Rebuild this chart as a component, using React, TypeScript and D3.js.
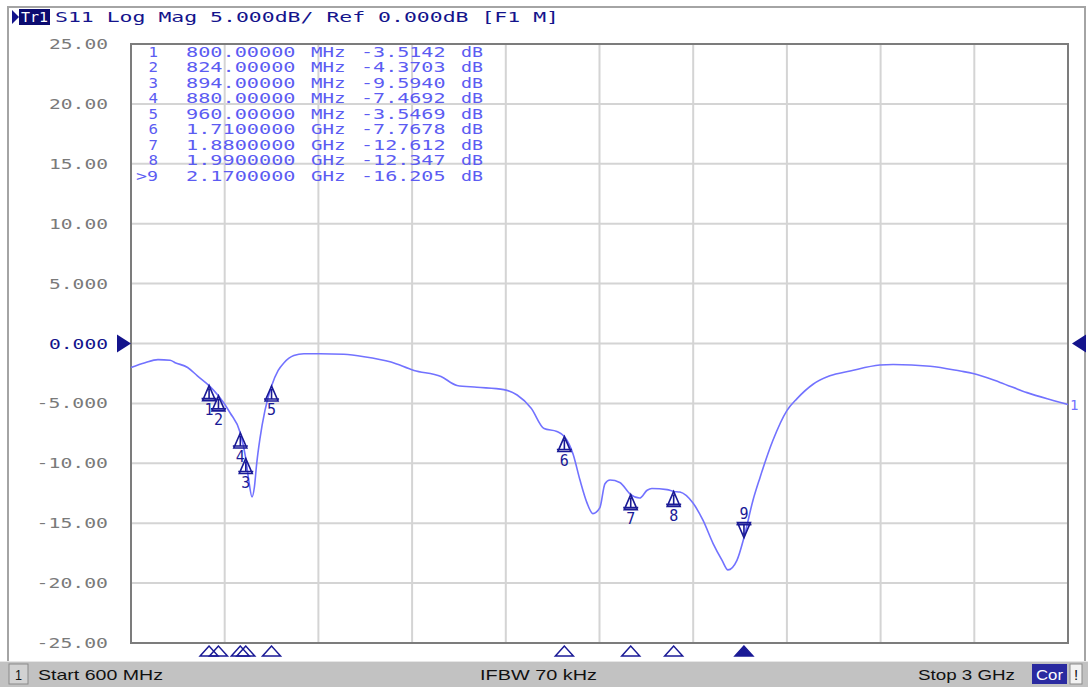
import React, { useEffect, useRef } from "react";
import * as d3 from "d3";

// trace S11 (MHz, dB)
const freqMHz = [
  600, 636, 669, 700, 713, 745, 770, 800, 824, 854, 880, 894, 902, 910, 916, 922, 930, 943, 960, 977,
  992, 1017, 1043, 1084, 1145, 1197, 1266, 1325, 1394, 1435, 1486, 1555, 1589, 1625, 1658, 1691, 1710,
  1732, 1750, 1768, 1783, 1801, 1814, 1827, 1852, 1880, 1903, 1922, 1934, 1973, 1990, 2006, 2039, 2065,
  2091, 2114, 2129, 2152, 2170, 2193, 2211, 2244, 2280, 2306, 2347, 2390, 2442, 2518, 2552, 2647, 2724,
  2757, 2826, 2895, 2962, 3000,
];
const s11Db = [
  -2.0, -1.6, -1.35, -1.4, -1.6, -2.0, -2.7, -3.5142, -4.3703, -5.8, -7.4692, -9.594, -11.5, -12.8, -12.0,
  -10.0, -8.0, -5.6, -3.5469, -2.25, -1.6, -1.0, -0.85, -0.85, -0.9, -1.1, -1.55, -2.25, -2.75, -3.5, -3.65,
  -3.85, -4.3, -5.4, -7.1, -7.35, -7.7678, -9.2, -11.4, -13.3, -14.2, -13.7, -11.7, -11.4, -11.6, -12.612,
  -12.9, -12.25, -12.1, -12.2, -12.347, -12.4, -13.3, -14.75, -16.7, -18.1, -18.9, -18.1, -16.205, -13.1,
  -11.2, -8.1, -5.6, -4.6, -3.4, -2.7, -2.3, -1.8, -1.75, -1.9, -2.3, -2.5, -3.25, -4.1, -4.75, -5.1,
];

const markerId = ["1", "2", "3", "4", "5", "6", "7", "8", "9"];
const markerMHz = [800, 824, 894, 880, 960, 1710, 1880, 1990, 2170];
const markerDb = [-3.5142, -4.3703, -9.594, -7.4692, -3.5469, -7.7678, -12.612, -12.347, -16.205];
const markerFreqText = ["800.00000", "824.00000", "894.00000", "880.00000", "960.00000", "1.7100000", "1.8800000", "1.9900000", "2.1700000"];
const markerUnit = ["MHz", "MHz", "MHz", "MHz", "MHz", "GHz", "GHz", "GHz", "GHz"];
const markerValText = ["-3.5142", "-4.3703", "-9.5940", "-7.4692", "-3.5469", "-7.7678", "-12.612", "-12.347", "-16.205"];
const activeMarker = 8;

const yTicks = [25, 20, 15, 10, 5, 0, -5, -10, -15, -20, -25];
const yTickText = ["25.00", "20.00", "15.00", "10.00", "5.000", "0.000", "-5.000", "-10.00", "-15.00", "-20.00", "-25.00"];
const xTicks = [600, 840, 1080, 1320, 1560, 1800, 2040, 2280, 2520, 2760, 3000];

const W = 1088;
const H = 687;
const MONO = "'DejaVu Sans Mono', monospace";
const NARROW = "'Liberation Sans Narrow', 'Arial Narrow', 'Liberation Sans', sans-serif";
const NAVY = "#14148c";
const TRACE = "#7272ff";

const App = () => {
  const chartRef = useRef<SVGSVGElement | null>(null);

  useEffect(() => {
    if (!chartRef.current) return;
    const svg = d3.select(chartRef.current);
    svg.selectAll("*").remove();

    const plot = { left: 131, right: 1068, top: 44, bottom: 643 };
    const x = d3.scaleLinear().domain([600, 3000]).range([plot.left, plot.right]);
    const y = d3.scaleLinear().domain([-25, 25]).range([plot.bottom, plot.top]);

    svg.append("rect").attr("width", W).attr("height", H).attr("fill", "#fff");

    // outer frame
    svg.append("path")
      .attr("d", "M8,662 V7 H1085 V662")
      .attr("fill", "none")
      .attr("stroke", "#a4a4a4")
      .attr("stroke-width", 2);

    // title line
    svg.append("path").attr("d", "M12,10 L19,17 L12,24 Z").attr("fill", NAVY);
    svg.append("rect").attr("x", 19).attr("y", 9).attr("width", 31).attr("height", 16).attr("fill", "#0c0c70");
    svg.append("text")
      .attr("x", 21).attr("y", 17).attr("dy", "0.35em")
      .attr("font-family", MONO).attr("font-size", 14).attr("fill", "#fff")
      .attr("textLength", 27).attr("lengthAdjust", "spacingAndGlyphs")
      .text("Tr1");
    svg.append("text")
      .attr("x", 55).attr("y", 17).attr("dy", "0.35em")
      .attr("font-family", MONO).attr("font-size", 14.5).attr("fill", NAVY)
      .attr("textLength", 39 * 13 - 3).attr("lengthAdjust", "spacingAndGlyphs")
      .text("S11 Log Mag 5.000dB/ Ref 0.000dB [F1 M]");

    // grid
    const grid = svg.append("g");
    grid.selectAll(".gx")
      .data(xTicks.slice(1, -1))
      .enter().append("line")
      .attr("x1", (d) => x(d)).attr("x2", (d) => x(d))
      .attr("y1", plot.top).attr("y2", plot.bottom)
      .attr("stroke", "#d4d4d4").attr("stroke-width", 2);
    grid.selectAll(".gy")
      .data(yTicks.slice(1, -1))
      .enter().append("line")
      .attr("x1", plot.left).attr("x2", plot.right)
      .attr("y1", (d) => y(d)).attr("y2", (d) => y(d))
      .attr("stroke", "#d4d4d4").attr("stroke-width", 2);
    svg.append("rect")
      .attr("x", plot.left).attr("y", plot.top)
      .attr("width", plot.right - plot.left).attr("height", plot.bottom - plot.top)
      .attr("fill", "none").attr("stroke", "#7c7c7c").attr("stroke-width", 2);

    // y labels
    svg.selectAll(".ylab")
      .data(yTicks)
      .enter().append("text")
      .attr("x", 108).attr("y", (d) => y(d)).attr("dy", "0.35em")
      .attr("text-anchor", "end")
      .attr("font-family", MONO).attr("font-size", 14.5)
      .attr("fill", (d) => (d === 0 ? NAVY : "#7a7a7a"))
      .attr("textLength", (d, i) => yTickText[i].length * 12.4 - 3)
      .attr("lengthAdjust", "spacingAndGlyphs")
      .text((d, i) => yTickText[i]);

    // reference level arrows
    svg.append("path").attr("d", `M117,${y(0) - 9} L131,${y(0)} L117,${y(0) + 9} Z`).attr("fill", NAVY);
    svg.append("path").attr("d", `M1086,${y(0) - 9} L1072,${y(0)} L1086,${y(0) + 9} Z`).attr("fill", NAVY);

    // marker table
    const cw = 12.5;
    const tx = 136;
    const table = svg.append("g")
      .attr("font-family", MONO).attr("font-size", 14).attr("fill", "#5c5cf2");
    markerId.forEach((id, i) => {
      const ty = 52 + i * 15.5;
      const cells: [string, number][] = [
        [i === activeMarker ? ">" + id : " " + id, 0],
        [markerFreqText[i], 4],
        [markerUnit[i], 14],
        [markerValText[i].padStart(7, " "), 18],
        ["dB", 26],
      ];
      cells.forEach(([s, col]) => {
        const lead = s.length - s.trimStart().length;
        const t = s.trimStart();
        table.append("text")
          .attr("x", tx + (col + lead) * cw).attr("y", ty).attr("dy", "0.35em")
          .attr("textLength", t.length * cw - 3).attr("lengthAdjust", "spacingAndGlyphs")
          .text(t);
      });
    });

    // trace
    const line = d3.line<number>()
      .x((d, i) => x(freqMHz[i]))
      .y((d) => y(d))
      .curve(d3.curveMonotoneX);
    svg.append("path")
      .attr("d", line(s11Db))
      .attr("fill", "none")
      .attr("stroke", TRACE)
      .attr("stroke-width", 1.6);
    svg.append("text")
      .attr("x", plot.right + 2).attr("y", y(s11Db[s11Db.length - 1]) + 1).attr("dy", "0.35em")
      .attr("font-family", MONO).attr("font-size", 14).attr("fill", TRACE)
      .text("1");

    // markers on trace
    const mk = svg.append("g");
    markerId.forEach((id, i) => {
      const px = x(markerMHz[i]);
      const py = y(markerDb[i]);
      const up = i !== activeMarker;
      const s = up ? 1 : -1;
      mk.append("path")
        .attr("d", `M${px},${py} L${px - 6.5},${py + s * 15} L${px + 6.5},${py + s * 15} Z M${px - 7.5},${py + s * 13} H${px + 7.5} M${px},${py + s * 3} V${py + s * 13}`)
        .attr("fill", "none").attr("stroke", "#1a1a96").attr("stroke-width", 1.6);
      mk.append("text")
        .attr("x", px).attr("y", py + s * 24).attr("dy", "0.35em")
        .attr("text-anchor", "middle")
        .attr("font-family", MONO).attr("font-size", 15).attr("fill", "#1a1a96")
        .text(id);
    });

    // marker position indicators under the grid
    markerId.forEach((id, i) => {
      const px = x(markerMHz[i]);
      svg.append("path")
        .attr("d", `M${px},646 L${px - 9},656 L${px + 9},656 Z`)
        .attr("fill", i === activeMarker ? "#1a1a96" : "none")
        .attr("stroke", "#1a1a96").attr("stroke-width", 1.5);
    });

    // status bar
    svg.append("rect").attr("x", 0).attr("y", 661).attr("width", W).attr("height", 26).attr("fill", "#c2c2c2");
    svg.append("line").attr("x1", 0).attr("x2", W).attr("y1", 661.5).attr("y2", 661.5).attr("stroke", "#e6e6e6");
    svg.append("rect").attr("x", 9).attr("y", 664).attr("width", 19).attr("height", 20)
      .attr("fill", "#d2d2d2").attr("stroke", "#8a8a8a");
    const status = svg.append("g").attr("font-family", NARROW).attr("font-size", 15).attr("fill", "#111");
    const statusItems: [string, number, number][] = [
      ["1", 15, 7],
      ["Start 600 MHz", 38, 125],
      ["IFBW 70 kHz", 480, 117],
      ["Stop 3 GHz", 918, 97],
    ];
    statusItems.forEach(([t, sx, sw]) => {
      status.append("text")
        .attr("x", sx).attr("y", 675).attr("dy", "0.35em")
        .attr("textLength", sw).attr("lengthAdjust", "spacingAndGlyphs")
        .text(t);
    });
    svg.append("rect").attr("x", 1032).attr("y", 664).attr("width", 35).attr("height", 20).attr("fill", "#2a2aa0");
    svg.append("text")
      .attr("x", 1036).attr("y", 675).attr("dy", "0.35em")
      .attr("font-family", NARROW).attr("font-size", 15).attr("fill", "#fff")
      .attr("textLength", 27).attr("lengthAdjust", "spacingAndGlyphs")
      .text("Cor");
    svg.append("rect").attr("x", 1070).attr("y", 664).attr("width", 12).attr("height", 20)
      .attr("fill", "#f2f2f2").attr("stroke", "#8a8a8a");
    svg.append("text")
      .attr("x", 1076).attr("y", 675).attr("dy", "0.35em").attr("text-anchor", "middle")
      .attr("font-family", NARROW).attr("font-size", 15).attr("fill", "#111")
      .text("!");
  }, []);

  return (
    <svg
      ref={chartRef}
      width={W}
      height={H}
      style={{ position: "absolute", left: 0, top: 0, display: "block" }}
    ></svg>
  );
};

export default App;
